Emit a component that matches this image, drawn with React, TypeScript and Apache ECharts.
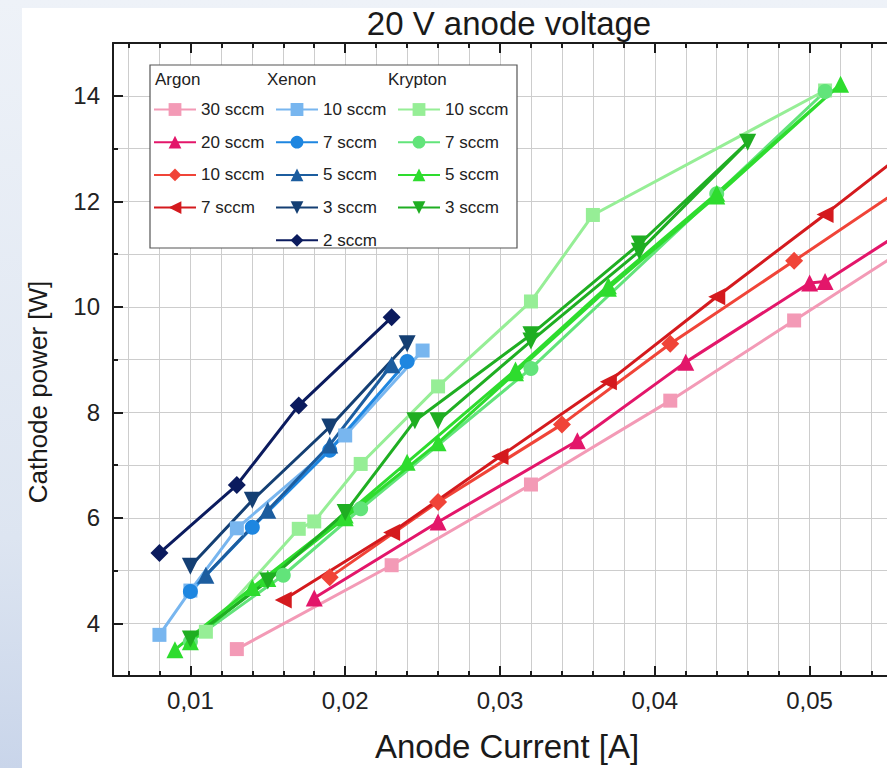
import React, { useEffect, useRef } from "react";
import * as echarts from "echarts";

// ---------- data ----------
const xMajorTicks = [0.01, 0.02, 0.03, 0.04, 0.05];
const xMinorTicks = [
  0.006, 0.008, 0.01, 0.012, 0.014, 0.016, 0.018, 0.02, 0.022, 0.024, 0.026, 0.028, 0.03,
  0.032, 0.034, 0.036, 0.038, 0.04, 0.042, 0.044, 0.046, 0.048, 0.05, 0.052, 0.054,
];
const yMajorTicks = [4, 6, 8, 10, 12, 14];

// Argon
const argon30 = [[0.013, 3.51], [0.023, 5.1], [0.032, 6.63], [0.041, 8.22], [0.049, 9.74], [0.057, 11.25]];
const argon20 = [[0.018, 4.48], [0.026, 5.92], [0.035, 7.46], [0.042, 8.95], [0.05, 10.45], [0.051, 10.48], [0.058, 11.8]];
const argon10 = [[0.019, 4.87], [0.026, 6.3], [0.034, 7.77], [0.041, 9.3], [0.049, 10.87], [0.058, 12.65]];
const argon7 = [[0.016, 4.44], [0.023, 5.72], [0.03, 7.16], [0.037, 8.58], [0.044, 10.19], [0.051, 11.75], [0.058, 13.35]];
// Xenon
const xenon10 = [[0.008, 3.78], [0.01, 4.62], [0.013, 5.8], [0.02, 7.56], [0.025, 9.17]];
const xenon7 = [[0.01, 4.6], [0.014, 5.82], [0.019, 7.28], [0.024, 8.96]];
const xenon5 = [[0.011, 4.91], [0.015, 6.14], [0.019, 7.38], [0.023, 8.9]];
const xenon3 = [[0.01, 5.08], [0.014, 6.33], [0.019, 7.72], [0.024, 9.3]];
const xenon2 = [[0.008, 5.33], [0.013, 6.62], [0.017, 8.13], [0.023, 9.8]];
// Krypton
const krypton10 = [[0.011, 3.84], [0.017, 5.79], [0.018, 5.93], [0.021, 7.02], [0.026, 8.49], [0.032, 10.1], [0.036, 11.74], [0.051, 14.1]];
const krypton7 = [[0.01, 3.65], [0.016, 4.91], [0.021, 6.17], [0.032, 8.83], [0.044, 12.14], [0.051, 14.08]];
const krypton5 = [
  [0.009, 3.5], [0.014, 4.68], [0.02, 6.05], [0.024, 7.05], [0.031, 8.8], [0.037, 10.4], [0.044, 12.15], [0.052, 14.22],
  [0.044, 12.1], [0.037, 10.35], [0.031, 8.75], [0.026, 7.42], [0.02, 6.0], [0.015, 4.85], [0.01, 3.65],
];
const krypton3 = [
  [0.01, 3.7], [0.015, 4.8], [0.02, 6.1], [0.0245, 7.84], [0.032, 9.47], [0.039, 11.19], [0.046, 13.12],
  [0.039, 11.05], [0.032, 9.35], [0.026, 7.84],
];

const FONT = "'Liberation Sans', Arial, sans-serif";

type Def = { name: string; data: number[][]; color: string; symbol: string; rotate?: number; size: number };

const argonDefs: Def[] = [
  { name: "Argon 30 sccm", data: argon30, color: "#f39ab6", symbol: "rect", size: 14 },
  { name: "Argon 20 sccm", data: argon20, color: "#e3166a", symbol: "triangle", size: 17 },
  { name: "Argon 10 sccm", data: argon10, color: "#f04438", symbol: "diamond", size: 18 },
  { name: "Argon 7 sccm", data: argon7, color: "#d41a1e", symbol: "triangle", rotate: 90, size: 17 },
];
const xenonDefs: Def[] = [
  { name: "Xenon 10 sccm", data: xenon10, color: "#78b6ef", symbol: "rect", size: 14 },
  { name: "Xenon 7 sccm", data: xenon7, color: "#1e86e0", symbol: "circle", size: 15 },
  { name: "Xenon 5 sccm", data: xenon5, color: "#1c5d9f", symbol: "triangle", size: 17 },
  { name: "Xenon 3 sccm", data: xenon3, color: "#143f73", symbol: "triangle", rotate: 180, size: 17 },
  { name: "Xenon 2 sccm", data: xenon2, color: "#0b1b5e", symbol: "diamond", size: 18 },
];
const kryptonDefs: Def[] = [
  { name: "Krypton 10 sccm", data: krypton10, color: "#96ee96", symbol: "rect", size: 14 },
  { name: "Krypton 7 sccm", data: krypton7, color: "#62e47a", symbol: "circle", size: 15 },
  { name: "Krypton 5 sccm", data: krypton5, color: "#2edc2e", symbol: "triangle", size: 17 },
  { name: "Krypton 3 sccm", data: krypton3, color: "#1fae22", symbol: "triangle", rotate: 180, size: 17 },
];

const fmtComma = (v: number) => v.toFixed(2).replace(".", ",");
const shortName = (n: string) => n.split(" ").slice(1).join(" ");

export default function App() {
  const ref = useRef<HTMLDivElement>(null);

  useEffect(() => {
    if (!ref.current) return;
    const chart = echarts.init(ref.current, null, { renderer: "svg" });

    const allDefs = [...kryptonDefs, ...argonDefs, ...xenonDefs];
    const series = allDefs.map((d) => ({
      name: d.name,
      type: "line",
      xAxisIndex: 0,
      yAxisIndex: 0,
      data: d.data,
      symbol: d.symbol,
      symbolSize: d.size,
      symbolRotate: d.rotate || 0,
      clip: true,
      lineStyle: { color: d.color, width: 3 },
      itemStyle: { color: d.color },
      z: 3,
    }));

    const axisColor = "#1c1c1c";
    const baseX = { type: "value", min: 0.005, max: 0.055, gridIndex: 0 };
    const baseY = { type: "value", min: 3, max: 15, gridIndex: 0 };

    const legendCommon = {
      orient: "vertical",
      top: 101,
      itemWidth: 42,
      itemHeight: 16,
      itemGap: 15.7,
      padding: 0,
      selectedMode: false,
      formatter: shortName,
      textStyle: { fontSize: 17, color: "#222", fontFamily: FONT, lineHeight: 16 },
      z: 10,
    };

    chart.setOption({
      animation: false,
      backgroundColor: "transparent",
      textStyle: { fontFamily: FONT },
      grid: { left: 113, top: 43, right: 0, bottom: 92, containLabel: false },
      xAxis: [
        {
          ...baseX,
          position: "bottom",
          axisLine: { show: true, onZero: false, lineStyle: { color: axisColor, width: 2 } },
          axisTick: { show: true, inside: true, length: 5, customValues: xMinorTicks, lineStyle: { color: axisColor, width: 2 } },
          axisLabel: { show: true, customValues: xMajorTicks, formatter: fmtComma, fontSize: 24, color: "#222", margin: 12, fontFamily: FONT },
          splitLine: { show: true, lineStyle: { color: "#cdcdcd", width: 1 } },
        },
        {
          ...baseX,
          position: "bottom",
          axisLine: { show: false },
          axisTick: { show: true, inside: true, length: 10, customValues: xMajorTicks, lineStyle: { color: axisColor, width: 2 } },
          axisLabel: { show: false },
          splitLine: { show: false },
        },
        {
          ...baseX,
          position: "top",
          axisLine: { show: true, onZero: false, lineStyle: { color: axisColor, width: 2 } },
          axisTick: { show: true, inside: true, length: 5, customValues: xMinorTicks, lineStyle: { color: axisColor, width: 2 } },
          axisLabel: { show: false },
          splitLine: { show: false },
        },
        {
          ...baseX,
          position: "top",
          axisLine: { show: false },
          axisTick: { show: true, inside: true, length: 10, customValues: xMajorTicks, lineStyle: { color: axisColor, width: 2 } },
          axisLabel: { show: false },
          splitLine: { show: false },
        },
      ],
      yAxis: [
        {
          ...baseY,
          interval: 1,
          position: "left",
          axisLine: { show: true, onZero: false, lineStyle: { color: axisColor, width: 2 } },
          axisTick: { show: true, inside: true, length: 5, lineStyle: { color: axisColor, width: 2 } },
          axisLabel: {
            show: true,
            fontSize: 24,
            color: "#222",
            margin: 13,
            fontFamily: FONT,
            formatter: (v: number) => (yMajorTicks.indexOf(v) >= 0 ? String(v) : ""),
          },
          splitLine: { show: true, lineStyle: { color: "#cdcdcd", width: 1 } },
        },
        {
          ...baseY,
          position: "left",
          axisLine: { show: false },
          axisTick: { show: true, inside: true, length: 10, customValues: yMajorTicks, lineStyle: { color: axisColor, width: 2 } },
          axisLabel: { show: false },
          splitLine: { show: false },
        },
      ],
      legend: [
        { ...legendCommon, left: 153, data: argonDefs.map((d) => d.name) },
        { ...legendCommon, left: 275, data: xenonDefs.map((d) => d.name) },
        { ...legendCommon, left: 397, data: kryptonDefs.map((d) => d.name) },
      ],
      graphic: [
        {
          type: "rect",
          shape: { x: 150, y: 65, width: 367, height: 183 },
          style: { fill: "#ffffff", stroke: "#555555", lineWidth: 1.2 },
          z: 8,
        },
        { type: "text", x: 155, y: 79, z: 10, style: { text: "Argon", fontSize: 17, fill: "#222", fontFamily: FONT, textVerticalAlign: "middle" } },
        { type: "text", x: 267, y: 79, z: 10, style: { text: "Xenon", fontSize: 17, fill: "#222", fontFamily: FONT, textVerticalAlign: "middle" } },
        { type: "text", x: 388, y: 79, z: 10, style: { text: "Krypton", fontSize: 17, fill: "#222", fontFamily: FONT, textVerticalAlign: "middle" } },
        {
          type: "text",
          x: 509,
          y: 23,
          z: 10,
          style: { text: "20 V anode voltage", fontSize: 33, fill: "#1a1a1a", fontFamily: FONT, textAlign: "center", textVerticalAlign: "middle" },
        },
        {
          type: "text",
          x: 507,
          y: 746,
          z: 10,
          style: { text: "Anode Current [A]", fontSize: 33, fill: "#1a1a1a", fontFamily: FONT, textAlign: "center", textVerticalAlign: "middle" },
        },
        {
          type: "text",
          x: 38,
          y: 392,
          rotation: Math.PI / 2,
          z: 10,
          style: { text: "Cathode power [W]", fontSize: 26, fill: "#1a1a1a", fontFamily: FONT, textAlign: "center", textVerticalAlign: "middle" },
        },
      ],
      series,
    });

    return () => chart.dispose();
  }, []);

  return (
    <div
      style={{
        position: "fixed",
        left: 0,
        top: 0,
        width: 887,
        height: 768,
        background: "linear-gradient(180deg, #eef2f8 0%, #dde5f1 70%, #c9d5ea 100%)",
        overflow: "hidden",
      }}
    >
      <div style={{ position: "absolute", left: 22, top: 8, right: 0, bottom: 0, background: "#ffffff" }} />
      <div ref={ref} style={{ position: "absolute", left: 0, top: 0, width: 887, height: 768 }} />
    </div>
  );
}
